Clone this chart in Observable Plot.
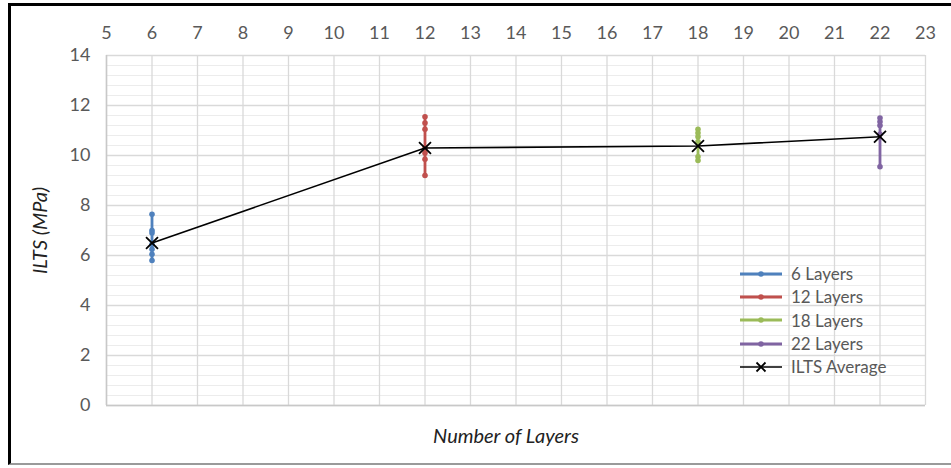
<!DOCTYPE html>
<html>
<head>
<meta charset="utf-8">
<script src="https://cdn.jsdelivr.net/npm/d3@7"></script>
<script src="https://cdn.jsdelivr.net/npm/@observablehq/plot@0.6"></script>
<style>
  html, body { margin: 0; padding: 0; background: #fff; }
  #wrap { position: relative; width: 951px; height: 468px; overflow: hidden; }
  #border { position: absolute; left: 8px; top: 3px; width: 950px; height: 462px;
            border-top: 3px solid #000; border-left: 3px solid #000; border-bottom: 2px solid #9a9a9a;
            box-sizing: border-box; pointer-events: none; }
  #legend { position: absolute; left: 738px; top: 262px; font-family: Lato, "Open Sans", sans-serif;
            font-size: 17px; color: #595959; }
  .row { display: flex; align-items: center; height: 23.3px; }
  .row svg { margin-right: 7px; }
  svg text { font-family: Lato, "Open Sans", sans-serif; }
</style>
</head>
<body>
<div id="wrap">
  <div id="chart"></div>
  <div id="legend"></div>
  <div id="border"></div>
</div>
<script>
// Series values (ILTS, MPa)
const seriesNames = ["6 Layers", "12 Layers", "18 Layers", "22 Layers"];
const seriesLayers = [6, 12, 18, 22];
const seriesColors = ["#4F81BD", "#C0504D", "#9BBB59", "#8064A2"];
const values6 = [7.65, 7.0, 6.9, 6.45, 6.25, 6.05, 5.8];
const values12 = [11.55, 11.3, 11.05, 10.3, 10.1, 9.85, 9.2];
const values18 = [11.05, 10.9, 10.75, 10.55, 9.95, 9.8];
const values22 = [11.5, 11.35, 11.2, 10.85, 9.55];
const averageLayers = [6, 12, 18, 22];
const averageValues = [6.5, 10.3, 10.38, 10.75];
const xTicks = d3.range(5, 24);
const yTicks = [0, 2, 4, 6, 8, 10, 12, 14];
const yMinorTicks = d3.range(0, 70).map(i => +(i * 0.4).toFixed(1)).filter(v => v <= 14);

const allValues = [values6, values12, values18, values22];
const pts = [];
allValues.forEach((vals, i) => vals.forEach(v => pts.push({series: seriesNames[i], layers: seriesLayers[i], v})));
const avg = averageLayers.map((l, i) => ({layers: l, v: averageValues[i]}));

const plot = Plot.plot({
  width: 951,
  height: 468,
  marginLeft: 106,
  marginRight: 26,
  marginTop: 55,
  marginBottom: 63,
  x: {domain: [5, 23]},
  y: {domain: [0, 14]},
  color: {domain: seriesNames, range: seriesColors},
  marks: [
    Plot.ruleY(yMinorTicks, {stroke: "#ececec", strokeWidth: 1}),
    Plot.ruleY(yTicks, {stroke: "#d9d9d9", strokeWidth: 1.3}),
    Plot.ruleX(xTicks, {stroke: "#d9d9d9", strokeWidth: 1.3}),
    Plot.ruleY([0], {stroke: "#c8c8c8", strokeWidth: 1.5}),
    Plot.ruleX([5], {stroke: "#c8c8c8", strokeWidth: 1.5}),
    Plot.axisX({anchor: "top", ticks: xTicks, tickSize: 0, tickPadding: 17, fontSize: 18, color: "#595959", label: null}),
    Plot.axisY({ticks: yTicks, tickSize: 0, tickPadding: 16, fontSize: 18, color: "#595959", label: null}),
    Plot.line(pts, {x: "layers", y: "v", z: "series", stroke: "series", strokeWidth: 2.8, sort: "v"}),
    Plot.dot(pts, {x: "layers", y: "v", fill: "series", r: 2.8}),
    Plot.line(avg, {x: "layers", y: "v", stroke: "#000", strokeWidth: 1.6}),
    Plot.dot(avg, {x: "layers", y: "v", symbol: "times", stroke: "#000", strokeWidth: 1.8, r: 5.5}),
    Plot.text(["Number of Layers"], {frameAnchor: "bottom", dy: 37, dx: -10, fontSize: 20, fontStyle: "italic", fill: "#222"}),
    Plot.text(["ILTS (MPa)"], {frameAnchor: "left", textAnchor: "middle", dx: -66, rotate: -90, fontSize: 20, fontStyle: "italic", fill: "#222"})
  ]
});
document.getElementById("chart").appendChild(plot);

// legend
const legend = document.getElementById("legend");
const legendItems = seriesNames.map((n, i) => ({name: n, color: seriesColors[i], marker: "dot"}))
  .concat([{name: "ILTS Average", color: "#000", marker: "x"}]);
legendItems.forEach(it => {
  const row = document.createElement("div");
  row.className = "row";
  const m = it.marker === "dot"
    ? `<circle cx="23" cy="8" r="2.8" fill="${it.color}"/>`
    : `<path d="M18.5,3.5L27.5,12.5M27.5,3.5L18.5,12.5" stroke="#000" stroke-width="1.8"/>`;
  row.innerHTML = `<svg width="46" height="16"><line x1="2" x2="44" y1="8" y2="8" stroke="${it.color}" stroke-width="${it.marker==='dot'?2.8:1.6}"/>${m}</svg><span>${it.name}</span>`;
  legend.appendChild(row);
});
</script>
</body>
</html>
